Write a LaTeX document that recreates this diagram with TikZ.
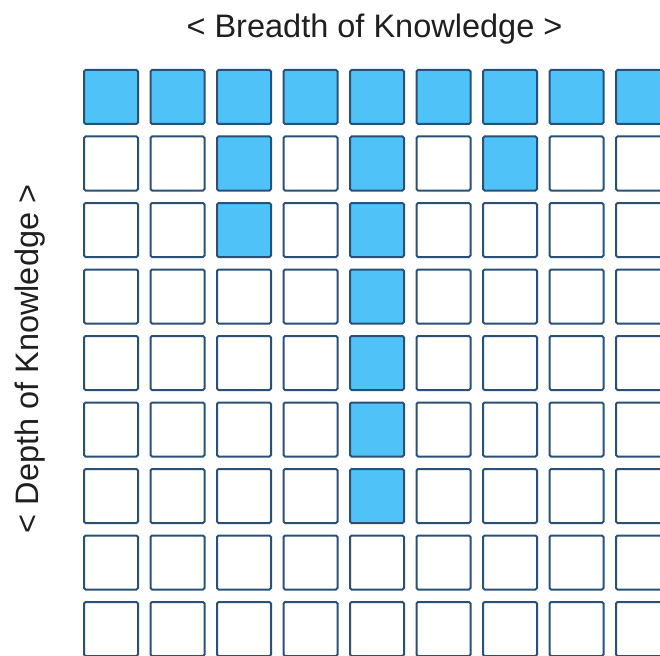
\documentclass[tikz,border=0pt]{standalone}
\usepackage{fontspec}
\setmainfont{Liberation Sans}
\definecolor{cellfill}{HTML}{4FC3F7}
\definecolor{celldraw}{HTML}{2A5078}
\begin{document}
\begin{tikzpicture}[x=1pt,y=-1pt,
  cell/.style={draw=celldraw,line width=2pt,fill=white,minimum size=54pt,inner sep=0pt,outer sep=0pt,rounded corners=1.5pt},
  hot/.style={cell,fill=cellfill},
  axislabel/.style={font=\fontsize{32.5}{38}\selectfont,inner sep=0pt,text=black!88}]
\useasboundingbox (0,0) rectangle (660,655);
\begin{scope}
\clip (0,0) rectangle (660,655);
\foreach \r in {0,...,8}{
  \foreach \c in {0,...,8}{
    \pgfmathtruncatemacro{\ishot}{(\r==0) || (\c==4 && \r<=6) || (\c==2 && \r<=2) || (\c==6 && \r==1)}
    \ifnum\ishot=1
      \node[hot] (c-\r-\c) at ({111+66.5*\c},{97+66.5*\r}) {};
    \else
      \node[cell] (c-\r-\c) at ({111+66.5*\c},{97+66.5*\r}) {};
    \fi
  }
}
\end{scope}
\node[axislabel,anchor=base] (breadth) at (374.5,38) {< Breadth of Knowledge >};
\node[axislabel,anchor=base,rotate=90] (depth) at (38,359) {< Depth of Knowledge >};
\end{tikzpicture}
\end{document}
